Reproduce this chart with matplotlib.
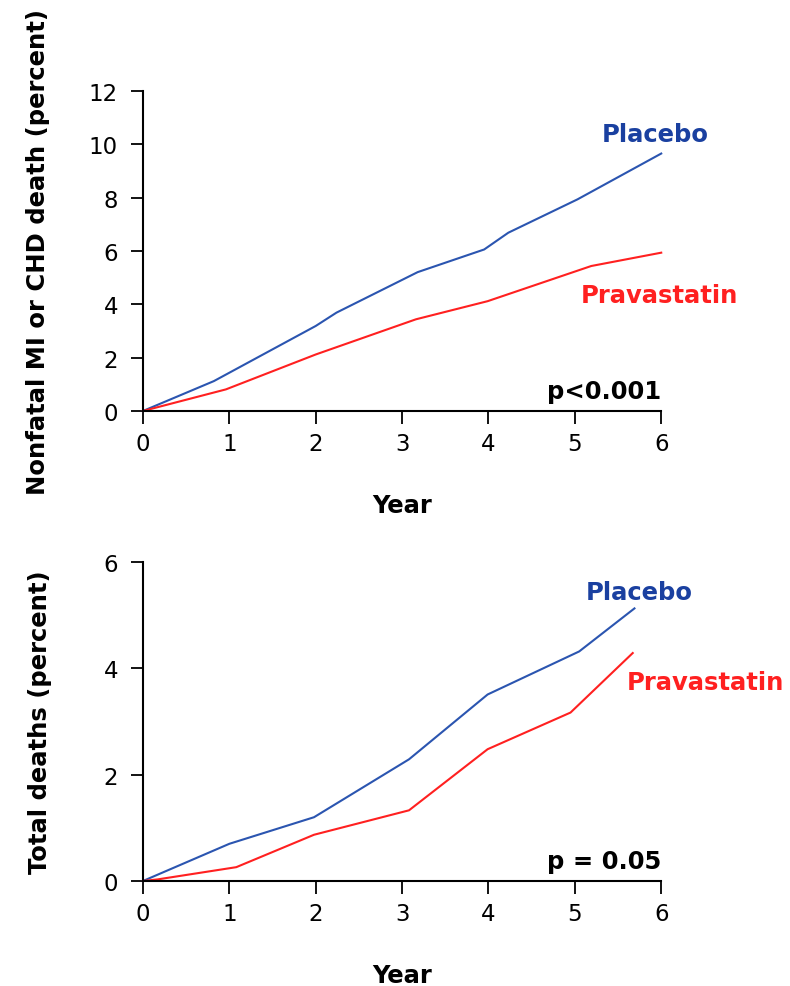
import matplotlib
matplotlib.use('Agg')
import matplotlib.pyplot as plt

# Top panel: nonfatal MI or CHD death (percent)
top_placebo_x = [0, 0.82, 2.0, 2.24, 3.18, 3.95, 4.23, 5.03, 6.0]
top_placebo_y = [0, 1.12, 3.19, 3.69, 5.21, 6.06, 6.69, 7.94, 9.66]
top_prava_x = [0, 0.96, 2.0, 3.16, 3.99, 5.19, 6.0]
top_prava_y = [0, 0.81, 2.12, 3.44, 4.12, 5.44, 5.94]

# Bottom panel: total deaths (percent)
bot_placebo_x = [0, 1.0, 1.98, 3.08, 3.99, 5.05, 5.69]
bot_placebo_y = [0, 0.70, 1.20, 2.29, 3.51, 4.32, 5.13]
bot_prava_x = [0, 0.17, 1.08, 1.98, 3.08, 3.99, 4.95, 5.67]
bot_prava_y = [0, 0.03, 0.26, 0.87, 1.33, 2.48, 3.17, 4.29]

year_ticks = [0, 1, 2, 3, 4, 5, 6]
top_yticks = [0, 2, 4, 6, 8, 10, 12]
bot_yticks = [0, 2, 4, 6]

BLUE_LINE = '#2b55b0'
BLUE_TEXT = '#1a40a0'
RED = '#ff2020'
LABEL_FS = 17.5
TICK_FS = 16.5

plt.rcParams['font.family'] = ['DejaVu Sans']

fig = plt.figure(figsize=(7.9, 9.87), dpi=100)
ax1 = fig.add_axes([0.181, 0.5826, 0.656, 0.324])
ax2 = fig.add_axes([0.181, 0.1064, 0.656, 0.323])


def style(ax, yticks, ylabel, ylab_x, xlab_y):
    ax.set_xlim(0, 6)
    ax.set_ylim(yticks[0], yticks[-1])
    ax.set_xticks(year_ticks)
    ax.set_yticks(yticks)
    for s in ['top', 'right']:
        ax.spines[s].set_visible(False)
    for s in ['left', 'bottom']:
        ax.spines[s].set_linewidth(1.5)
    ax.tick_params(axis='both', direction='out', length=9, width=1.3,
                   labelsize=TICK_FS, colors='black')
    ax.tick_params(axis='x', pad=6)
    ax.tick_params(axis='y', pad=9)
    ax.set_xlabel('Year', fontsize=LABEL_FS, fontweight='bold')
    ax.set_ylabel(ylabel, fontsize=LABEL_FS, fontweight='bold')
    ax.xaxis.set_label_coords(0.5, xlab_y)
    ax.xaxis.label.set_va('center')
    ax.yaxis.set_label_coords(ylab_x, 0.5)
    ax.yaxis.label.set_va('center')


style(ax1, top_yticks, 'Nonfatal MI or CHD death (percent)', -0.203, -0.294)
ax1.plot(top_placebo_x, top_placebo_y, color=BLUE_LINE, lw=1.5, clip_on=False)
ax1.plot(top_prava_x, top_prava_y, color=RED, lw=1.5, clip_on=False)
ax1.text(5.925, 10.39, 'Placebo', color=BLUE_TEXT, fontsize=LABEL_FS, fontweight='bold', ha='center', va='center')
ax1.text(5.98, 4.35, 'Pravastatin', color=RED, fontsize=LABEL_FS, fontweight='bold', ha='center', va='center')
ax1.text(6.0, 0.75, 'p<0.001', color='black', fontsize=LABEL_FS, fontweight='bold', ha='right', va='center')

style(ax2, bot_yticks, 'Total deaths (percent)', -0.199, -0.295)
ax2.plot(bot_placebo_x, bot_placebo_y, color=BLUE_LINE, lw=1.5, clip_on=False)
ax2.plot(bot_prava_x, bot_prava_y, color=RED, lw=1.5, clip_on=False)
ax2.text(5.745, 5.44, 'Placebo', color=BLUE_TEXT, fontsize=LABEL_FS, fontweight='bold', ha='center', va='center')
ax2.text(6.51, 3.74, 'Pravastatin', color=RED, fontsize=LABEL_FS, fontweight='bold', ha='center', va='center')
ax2.text(6.0, 0.38, 'p = 0.05', color='black', fontsize=LABEL_FS, fontweight='bold', ha='right', va='center')

fig.savefig('out.png', dpi=100)
plt.close(fig)
